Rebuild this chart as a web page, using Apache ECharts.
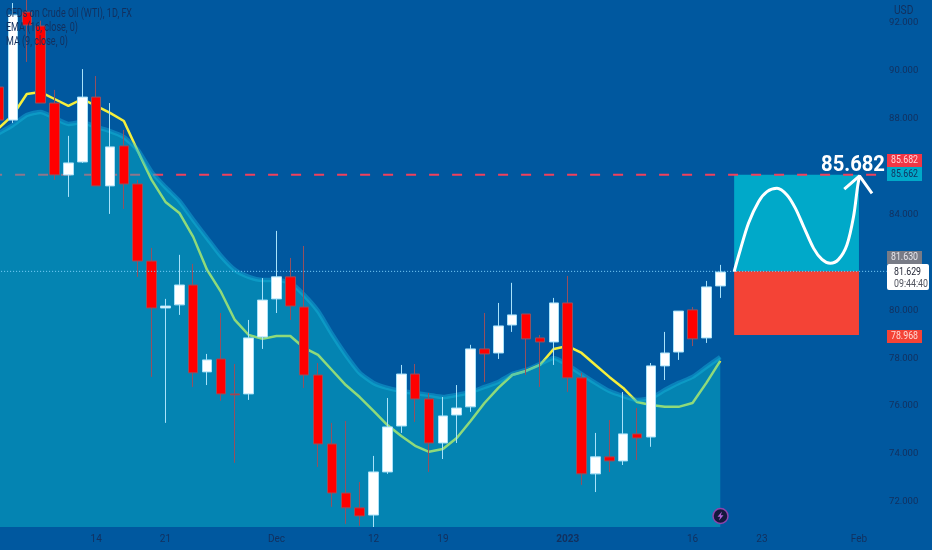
<!DOCTYPE html>
<html><head><meta charset="utf-8">
<style>html,body{margin:0;padding:0;background:#00589f}#c{width:932px;height:550px}</style>
<script src="https://cdn.jsdelivr.net/npm/echarts@6/dist/echarts.min.js"></script>
</head><body><div id="c"></div>
<script>
const opens=[89.33,87.95,92.46,91.88,88.66,85.66,86.20,88.91,85.20,86.87,85.28,82.06,80.10,80.23,81.06,77.43,77.97,76.51,76.51,78.89,80.48,81.40,80.14,77.30,74.42,72.37,71.75,71.45,73.25,75.17,77.34,76.30,74.46,75.63,75.97,78.39,78.22,79.39,79.85,78.85,78.68,80.31,77.18,73.17,73.88,73.71,74.84,74.71,77.68,78.26,80.02,78.85,81.02];
const closes=[87.95,92.34,91.92,88.66,85.66,86.16,88.91,85.20,86.83,85.28,82.06,80.10,80.18,81.06,77.39,77.93,76.51,76.47,78.85,80.43,81.40,80.18,77.30,74.42,72.37,71.75,71.41,73.25,75.13,77.34,76.30,74.46,75.59,75.92,78.39,78.18,79.35,79.81,78.81,78.68,80.31,77.18,73.17,73.88,73.71,74.84,74.67,77.68,78.22,79.97,78.81,80.98,81.60];
const lows=[87.74,87.83,90.38,88.66,85.45,84.74,86.16,85.20,84.03,84.24,81.40,77.22,75.30,79.81,76.80,76.88,76.22,73.63,76.26,78.39,79.89,79.60,76.76,73.46,71.79,71.08,71.00,70.95,73.17,74.88,75.34,73.25,73.79,74.46,75.76,77.01,77.97,79.10,77.30,76.80,77.72,76.59,72.71,72.41,73.25,73.54,73.75,74.30,77.09,77.93,78.51,78.64,80.52];
const highs=[89.62,92.84,93.20,92.10,89.21,87.29,90.08,89.79,88.66,87.54,85.45,82.61,80.48,82.32,81.94,78.18,79.89,77.76,79.60,81.35,83.32,82.19,82.69,77.80,75.30,75.38,72.83,73.92,76.34,77.72,77.76,76.55,76.38,76.88,78.56,79.89,80.31,81.15,79.85,78.97,80.52,81.44,77.39,74.88,75.42,76.59,75.92,77.80,79.10,79.97,80.14,81.23,81.90];
const maValues=[87.62,88.16,89.04,89.12,88.83,88.54,88.83,88.54,88.25,87.91,86.66,85.45,84.53,84.07,83.07,81.69,80.77,79.60,78.97,78.81,78.93,78.93,78.43,78.14,77.51,76.88,76.38,75.80,75.21,74.75,74.34,74.09,74.21,74.67,75.38,76.13,76.76,77.30,77.47,77.72,78.39,78.51,78.22,77.72,77.22,76.76,76.17,76.05,75.97,75.97,76.13,76.97,77.89];
const emaValues=[87.41,87.74,88.16,88.29,88.04,87.79,87.87,87.66,87.49,87.24,86.70,85.78,85.15,84.57,83.78,83.02,82.27,81.69,81.40,81.27,81.27,81.15,80.64,79.97,79.01,78.14,77.39,76.97,76.76,76.63,76.55,76.47,76.38,76.47,76.59,76.80,77.01,77.34,77.51,77.76,78.01,77.72,77.34,76.97,76.63,76.42,76.26,76.34,76.67,76.97,77.22,77.64,78.05];
const curve=[[53.0,81.62],[53.44,82.52],[54.04,83.65],[54.76,84.54],[55.37,84.96],[56.09,85.10],[56.81,84.82],[57.41,84.27],[58.01,83.50],[58.73,82.59],[59.33,82.13],[59.93,81.97],[60.53,82.13],[61.13,82.73],[61.61,83.92],[61.90,85.17],[62.04,85.62]];
const arrow=[[60.94,85.06],[62.04,85.62],[62.94,84.89]];
const tickIndex=[7,12,20,27,32,41,50,55,62];
const tickLabels=['14','21','Dec','12','19','2023','16','23','Feb'];
const priceTicks=[72,74,76,78,80,82,84,86,88,90,92];
const legendLines=['CFDs on Crude Oil (WTI), 1D, FX','EMA (16, close, 0)','MA (9, close, 0)'];
const targetLevel=85.662, stopLevel=78.968, entryLevel=81.63, lastLevel=81.63;

const categories=[];
for(let i=0;i<68;i++){const k=tickIndex.indexOf(i);categories.push(k>=0?tickLabels[k]:'');}
const candles=opens.map((o,i)=>[o,closes[i],lows[i],highs[i]]);
const navy='#12305e';
const nf='Roboto,sans-serif';
const chart=echarts.init(document.getElementById('c'),null,{renderer:'canvas'});
function tag(x,y,w,h,fill,txt,col){
  return {type:'group',z:50,children:[
    {type:'rect',shape:{x:x,y:y,width:w,height:h},style:{fill:fill},z:50},
    {type:'text',x:x+w/2,y:y+h/2,scaleX:0.8,style:{text:txt,fill:col,font:'11px '+nf,align:'center',verticalAlign:'middle'},z:51}
  ]};
}
function note(x,y,txt,col,sx){
  return {type:'text',x:x,y:y,scaleX:sx,z:60,style:{text:txt,fill:col,font:'12px '+nf,verticalAlign:'middle'}};
}
chart.setOption({
  animation:false,
  backgroundColor:'#00589f',
  grid:{left:-7.9,width:943.16,top:0,height:527,containLabel:false,outerBoundsMode:'none'},
  xAxis:[
    {type:'category',data:categories,boundaryGap:true,axisLine:{show:false},axisTick:{show:false},splitLine:{show:false},
     axisLabel:{interval:0,margin:7,color:navy,fontFamily:nf,fontSize:10,hideOverlap:false,
       formatter:v=>v==='2023'?'{b|2023}':v,rich:{b:{fontWeight:'bold',color:navy,fontFamily:nf,fontSize:10}}}},
    {type:'value',min:-0.5,max:67.5,show:false}
  ],
  yAxis:{type:'value',position:'right',min:70.95,max:92.966,scale:true,axisLine:{show:false},axisTick:{show:false},splitLine:{show:false},
    axisLabel:{inside:true,margin:17,color:navy,fontFamily:nf,fontSize:9.5,padding:[3,0,0,0],customValues:priceTicks,formatter:v=>v.toFixed(3)}},
  series:[
    {type:'line',name:'target line',xAxisIndex:1,z:1,symbol:'none',data:[[-0.5,targetLevel],[64,targetLevel]],silent:true,
     lineStyle:{color:'#f2405c',width:2,type:[10,13]}},
    {type:'line',name:'boxes',xAxisIndex:1,z:2,symbol:'none',data:[],silent:true,
     markArea:{silent:true,data:[
       [{coord:[53,targetLevel],itemStyle:{color:'#00a9c9'}},{coord:[62,entryLevel]}],
       [{coord:[53,entryLevel],itemStyle:{color:'#f44336'}},{coord:[62,stopLevel]}]
     ]}},
    {type:'line',name:'MA',z:3,symbol:'none',data:maValues,lineStyle:{color:'#f5ef3c',width:2.5}},
    {type:'line',name:'EMA',z:4,symbol:'none',smooth:0.2,data:emaValues,
     lineStyle:{color:'rgba(25,185,225,0.42)',width:4.5},
     areaStyle:{color:'rgba(9,190,205,0.43)',origin:'start',opacity:1}},
    {type:'candlestick',name:'WTI',z:5,data:candles,barWidth:10,
     itemStyle:{color:'#ffffff',color0:'#ff0000',borderColor:'#a8e2fa',borderColor0:'#94505f',borderWidth:1}},
    {type:'line',name:'last price',xAxisIndex:1,z:6,symbol:'none',data:[[-0.5,lastLevel],[64,lastLevel]],silent:true,
     lineStyle:{color:'#7fd4ff',width:1,type:[1,2]}},
    {type:'line',name:'curve',xAxisIndex:1,z:7,symbol:'none',smooth:0.3,data:curve,lineStyle:{color:'#ffffff',width:3}},
    {type:'line',name:'arrow',xAxisIndex:1,z:7,symbol:'none',data:arrow,lineStyle:{color:'#ffffff',width:3}}
  ],
  graphic:[
    note(6,14,legendLines[0],navy,0.75),
    note(6,28,legendLines[1],navy,0.75),
    note(6,42,legendLines[2],navy,0.75),
    note(894,11,'USD',navy,0.85),
    {type:'text',x:853,y:165,scaleX:0.92,z:60,style:{text:'85.682',fill:'#ffffff',font:'bold 22px '+nf,align:'center',verticalAlign:'middle'}},
    tag(887,154,35,13,'#f23645','85.682','#ffd6da'),
    tag(887,167,35,14,'#00a9c9','85.662',navy),
    tag(887,251,35,13,'#787b86','81.630','#e8e8ee'),
    {type:'group',z:50,children:[
      {type:'rect',shape:{x:887,y:264,width:42,height:26,r:2},style:{fill:'#ffffff'},z:50},
      {type:'text',x:894,y:272,scaleX:0.8,style:{text:'81.629',fill:'#1c2030',font:'11px '+nf,verticalAlign:'middle'},z:51},
      {type:'text',x:894,y:284,scaleX:0.8,style:{text:'09:44:40',fill:'#50535e',font:'11px '+nf,verticalAlign:'middle'},z:51}
    ]},
    tag(887,330,35,13,'#f44336','78.968','#ffd9d4'),
    {type:'group',z:60,children:[
      {type:'circle',shape:{cx:720.5,cy:516,r:7.5},style:{fill:'#14183c',stroke:'#8e44ad',lineWidth:1.5},z:60},
      {type:'polygon',shape:{points:[[722,511.5],[717.5,516.8],[720.2,516.8],[719,520.5],[723.5,515.2],[720.8,515.2]]},style:{fill:'#b060d8'},z:61}
    ]}
  ]
});
</script></body></html>
